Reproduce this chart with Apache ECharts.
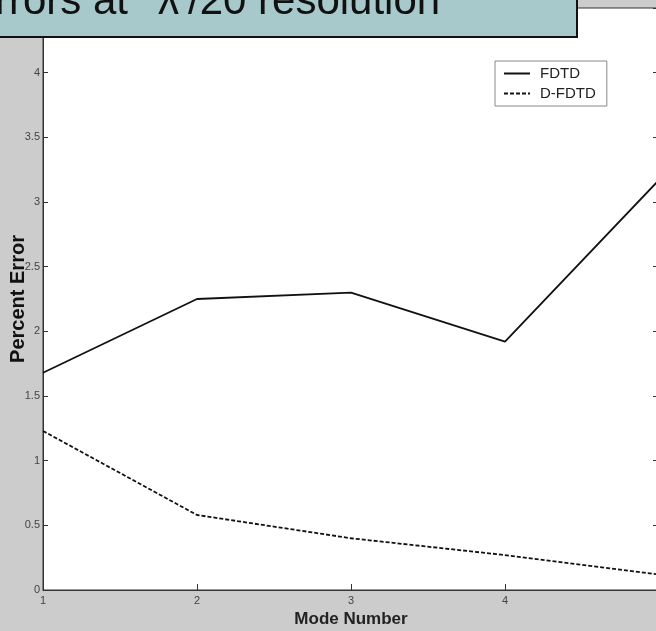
<!DOCTYPE html>
<html>
<head>
<meta charset="utf-8">
<script src="https://cdn.jsdelivr.net/npm/echarts@6/dist/echarts.min.js"></script>
<style>
  html, body { margin: 0; padding: 0; background: #cccccc; }
  #chart { width: 656px; height: 631px; }
</style>
</head>
<body>
<div id="chart"></div>
<script>
// mode numbers and percent errors
var modes = [1, 2, 3, 4, 5];
var fdtd = [1.68, 2.25, 2.30, 1.92, 3.17];
var dfdtd = [1.23, 0.58, 0.40, 0.27, 0.12];
var titleParts = ['rrors at', 'λ', '/20 resolution'];

var chart = echarts.init(document.getElementById('chart'));

function pairs(ys) {
  return modes.map(function (m, i) { return [m, ys[i]]; });
}

var sans = '"Liberation Sans", Arial, sans-serif';
var tickFont = { color: '#444', fontSize: 11, fontFamily: sans };
var titleFont = '42px ' + sans;

var option = {
  backgroundColor: '#cccccc',
  animation: false,
  grid: {
    left: 43, right: -3, top: 8, bottom: 41,
    outerBoundsMode: 'none',
    show: true, backgroundColor: '#fff', borderColor: '#333', borderWidth: 1
  },
  legend: {
    orient: 'vertical',
    left: 495, top: 61,
    backgroundColor: '#fff', borderColor: '#888', borderWidth: 1,
    padding: [5, 11, 5, 8],
    itemWidth: 26, itemHeight: 14, itemGap: 5,
    itemStyle: { opacity: 0 },
    textStyle: { color: '#222', fontSize: 15, fontFamily: sans, padding: [0, 0, 0, 5] },
    data: ['FDTD', 'D-FDTD']
  },
  xAxis: [{
    type: 'value', min: 1, max: 5, interval: 1,
    name: 'Mode Number', nameLocation: 'middle', nameGap: 21, nameMoveOverlap: false,
    nameTextStyle: { color: '#222', fontSize: 17, fontWeight: 'bold', fontFamily: sans },
    axisLine: { lineStyle: { color: '#333' } },
    axisTick: { inside: true, length: 6, lineStyle: { color: '#333' } },
    axisLabel: Object.assign({ margin: 5, showMaxLabel: false }, tickFont),
    splitLine: { show: false }
  }],
  yAxis: [{
    type: 'value', min: 0, max: 4.5, interval: 0.5,
    name: 'Percent Error', nameLocation: 'middle', nameGap: 15, nameRotate: 90, nameMoveOverlap: false,
    nameTextStyle: { color: '#111', fontSize: 20, fontWeight: 'bold', fontFamily: sans },
    axisLine: { lineStyle: { color: '#333' } },
    axisTick: { inside: true, length: 5, lineStyle: { color: '#333' } },
    axisLabel: Object.assign({ margin: 3, showMaxLabel: false }, tickFont),
    splitLine: { show: false }
  }, {
    type: 'value', min: 0, max: 4.5, interval: 0.5, position: 'right',
    axisLine: { show: true, lineStyle: { color: '#333' } },
    axisTick: { inside: true, length: 6, lineStyle: { color: '#333' } },
    axisLabel: { show: false },
    splitLine: { show: false }
  }],
  series: [{
    name: 'FDTD', type: 'line', symbol: 'none',
    lineStyle: { color: '#111', width: 1.8 },
    itemStyle: { color: '#111' },
    data: pairs(fdtd)
  }, {
    name: 'D-FDTD', type: 'line', symbol: 'none',
    lineStyle: { color: '#111', width: 1.8, type: [4, 2] },
    itemStyle: { color: '#111' },
    data: pairs(dfdtd)
  }],
  graphic: [{
    type: 'rect', z: 100,
    shape: { x: -3, y: -3, width: 580, height: 40 },
    style: { fill: '#a7c9cc', stroke: '#111', lineWidth: 2 }
  }, {
    type: 'text', z: 101, x: 128, y: -19,
    style: { text: titleParts[0], fill: '#111', font: titleFont, align: 'right', verticalAlign: 'top' }
  }, {
    type: 'text', z: 101, x: 158, y: -19,
    style: { text: titleParts[1], fill: '#111', font: titleFont, verticalAlign: 'top' }
  }, {
    type: 'text', z: 101, x: 188, y: -19,
    style: { text: titleParts[2], fill: '#111', font: titleFont, verticalAlign: 'top' }
  }]
};

chart.setOption(option);
</script>
</body>
</html>
